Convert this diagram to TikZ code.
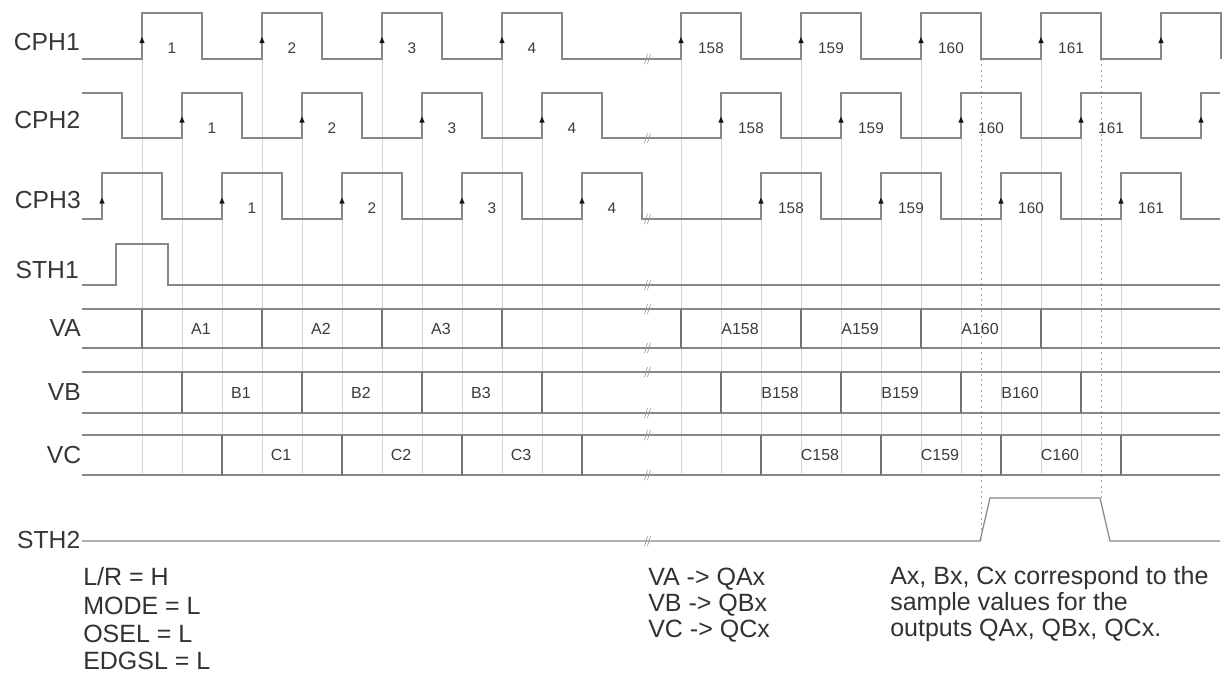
\documentclass[tikz,border=0pt]{standalone}
\usepackage{fontspec}
\setmainfont{Liberation Sans}
\begin{document}
\begin{tikzpicture}[x=0.75pt,y=0.75pt,yscale=-1,xscale=1,
    sigline/.style={draw={rgb, 255:red, 135; green, 135; blue, 135 }, line width=0.9},
    sepline/.style={draw={rgb, 255:red, 115; green, 115; blue, 115 }, line width=0.8},
    gridline/.style={draw={rgb, 255:red, 212; green, 212; blue, 212 }, line width=0.5},
    dotline/.style={draw={rgb, 255:red, 165; green, 165; blue, 165 }, line width=0.6, dash pattern=on 1.5pt off 2.5pt},
    brkmark/.style={draw={rgb, 255:red, 160; green, 160; blue, 160 }, line width=0.5},
    siglabel/.style={anchor=east, inner sep=0pt, text={rgb, 255:red, 55; green, 55; blue, 55 }, font=\fontsize{18.5}{22}\selectfont},
    pulsenum/.style={anchor=base, inner sep=0pt, text={rgb, 255:red, 60; green, 60; blue, 60 }, font=\fontsize{11.5}{13}\selectfont},
    buslabel/.style={inner sep=0pt, text={rgb, 255:red, 60; green, 60; blue, 60 }, font=\fontsize{12}{14}\selectfont},
    notetext/.style={anchor=base west, inner sep=0pt, text={rgb, 255:red, 50; green, 50; blue, 50 }, font=\fontsize{18.75}{22}\selectfont}
  ]
%set diagram left start at 0, and has height of 672
\fill [white] (0,0) rectangle (1223,672);
\useasboundingbox (0,0) rectangle (1223,672);

%Straight Lines: grid under the data cells
\foreach \gx in {142,262,382,502,681,801,921,1041} \draw [gridline] (\gx,13) -- (\gx,475);
\foreach \gx in {182,302,422,542,721,841,961,1081} \draw [gridline] (\gx,93) -- (\gx,475);
\foreach \gx in {222,342,462,582,761,881,1001,1121} \draw [gridline] (\gx,173) -- (\gx,475);

%Straight Lines: sample window
\draw [dotline] (981,59) -- (981,540) ;
\draw [dotline] (1101,59) -- (1101,498) ;

%Shape: CPH1 wave
\draw [sigline] (82,59) -- (142,59) -- (142,13) -- (202,13) -- (202,59) -- (262,59) -- (262,13) -- (322,13) -- (322,59) -- (382,59) -- (382,13) -- (442,13) -- (442,59) -- (502,59) -- (502,13) -- (562,13) -- (562,59) -- (681,59) -- (681,13) -- (741,13) -- (741,59) -- (801,59) -- (801,13) -- (861,13) -- (861,59) -- (921,59) -- (921,13) -- (981,13) -- (981,59) -- (1041,59) -- (1041,13) -- (1101,13) -- (1101,59) -- (1161,59) -- (1161,13) -- (1221,13) -- (1221,59) ;
%Shape: CPH2 wave
\draw [sigline] (82,93) -- (122,93) -- (122,138) -- (182,138) -- (182,93) -- (242,93) -- (242,138) -- (302,138) -- (302,93) -- (362,93) -- (362,138) -- (422,138) -- (422,93) -- (482,93) -- (482,138) -- (542,138) -- (542,93) -- (602,93) -- (602,138) -- (721,138) -- (721,93) -- (781,93) -- (781,138) -- (841,138) -- (841,93) -- (901,93) -- (901,138) -- (961,138) -- (961,93) -- (1021,93) -- (1021,138) -- (1081,138) -- (1081,93) -- (1141,93) -- (1141,138) -- (1201,138) -- (1201,93) -- (1220,93) ;
%Shape: CPH3 wave
\draw [sigline] (82,219) -- (102,219) -- (102,173) -- (162,173) -- (162,219) -- (222,219) -- (222,173) -- (282,173) -- (282,219) -- (342,219) -- (342,173) -- (402,173) -- (402,219) -- (462,219) -- (462,173) -- (522,173) -- (522,219) -- (582,219) -- (582,173) -- (642,173) -- (642,219) -- (761,219) -- (761,173) -- (821,173) -- (821,219) -- (881,219) -- (881,173) -- (941,173) -- (941,219) -- (1001,219) -- (1001,173) -- (1061,173) -- (1061,219) -- (1121,219) -- (1121,173) -- (1181,173) -- (1181,219) -- (1220,219) ;
%Shape: STH1 wave
\draw [sigline] (82,285) -- (116,285) -- (116,244) -- (168,244) -- (168,285) -- (1220,285) ;
%Shape: STH2 wave
\draw [sigline] (82,541) -- (980,541) -- (990,498) -- (1100,498) -- (1110,541) -- (1220,541) ;

%Straight Lines: VA, VB, VC buses
\draw [sigline] (82,309) -- (1220,309) (82,348) -- (1220,348) ;
\draw [sigline] (82,372) -- (1220,372) (82,413) -- (1220,413) ;
\draw [sigline] (82,435) -- (1220,435) (82,475) -- (1220,475) ;
\foreach \sx in {142,262,382,502,681,801,921,1041} \draw [sepline] (\sx,309) -- (\sx,348);
\foreach \sx in {182,302,422,542,721,841,961,1081} \draw [sepline] (\sx,372) -- (\sx,413);
\foreach \sx in {222,342,462,582,761,881,1001,1121} \draw [sepline] (\sx,435) -- (\sx,475);

%Arrows on rising edges
\foreach \ax/\ay in {142/37,262/37,382/37,502/37,681/37,801/37,921/37,1041/37,1161/37,
                     182/116.5,302/116.5,422/116.5,542/116.5,721/116.5,841/116.5,961/116.5,1081/116.5,1201/116.5,
                     102/197.5,222/197.5,342/197.5,462/197.5,582/197.5,761/197.5,881/197.5,1001/197.5,1121/197.5}
  \draw [shift={(\ax,\ay)}, rotate = 90] [fill={rgb, 255:red, 20; green, 20; blue, 20 }  ][line width=0.08]  [draw opacity=0] (6,-2.6) -- (0,0) -- (6,2.6) -- cycle    ;

%Break marks
\foreach \by in {59,138,219,285,309,348,372,413,435,475,541}
  \draw [brkmark] (644.5,\by+5) -- (647.5,\by-5) (647.5,\by+5) -- (650.5,\by-5) ;

% Text Node: signal names
\node [siglabel] (lblCPH1) at (80,41.7) {CPH1};
\node [siglabel] (lblCPH2) at (80.5,120.5) {CPH2};
\node [siglabel] (lblCPH3) at (81,200.5) {CPH3};
\node [siglabel] (lblSTH1) at (79,270.5) {STH1};
\node [siglabel] (lblVA) at (81,328.5) {VA};
\node [siglabel] (lblVB) at (81,392.5) {VB};
\node [siglabel] (lblVC) at (81.5,455) {VC};
\node [siglabel] (lblSTH2) at (80.5,540) {STH2};

% Text Node: pulse numbers
\foreach \px/\pn in {142/1,262/2,382/3,502/4,681/158,801/159,921/160,1041/161}
  \node [pulsenum] (numI-\pn) at (\px+30,53.5) {\pn};
\foreach \px/\pn in {182/1,302/2,422/3,542/4,721/158,841/159,961/160,1081/161}
  \node [pulsenum] (numII-\pn) at (\px+30,133.5) {\pn};
\foreach \px/\pn in {222/1,342/2,462/3,582/4,761/158,881/159,1001/160,1121/161}
  \node [pulsenum] (numIII-\pn) at (\px+30,213.5) {\pn};

% Text Node: sample cells
\foreach \cx/\cn in {142/1,262/2,382/3,681/158,801/159,921/160}
  \node [buslabel] (cellA\cn) at (\cx+59,328.5) {A\cn};
\foreach \cx/\cn in {182/1,302/2,422/3,721/158,841/159,961/160}
  \node [buslabel] (cellB\cn) at (\cx+59,392.5) {B\cn};
\foreach \cx/\cn in {222/1,342/2,462/3,761/158,881/159,1001/160}
  \node [buslabel] (cellC\cn) at (\cx+59,455) {C\cn};

% Text Node: settings
\node [notetext] (noteLR) at (83,585.7) {L/R = H};
\node [notetext] (noteMODE) at (83,614.5) {MODE = L};
\node [notetext] (noteOSEL) at (83,642.5) {OSEL = L};
\node [notetext] (noteEDGSL) at (83,669) {EDGSL = L};
% Text Node: outputs
\node [notetext] (mapA) at (648,585.5) {VA -> QAx};
\node [notetext] (mapB) at (648,611.5) {VB -> QBx};
\node [notetext] (mapC) at (648,637.3) {VC -> QCx};
% Text Node: remark
\node [notetext] (remI) at (890,584.5) {Ax, Bx, Cx correspond to the};
\node [notetext] (remII) at (890,610.5) {sample values for the};
\node [notetext] (remIII) at (890,636.5) {outputs QAx, QBx, QCx.};

\end{tikzpicture}
\end{document}
